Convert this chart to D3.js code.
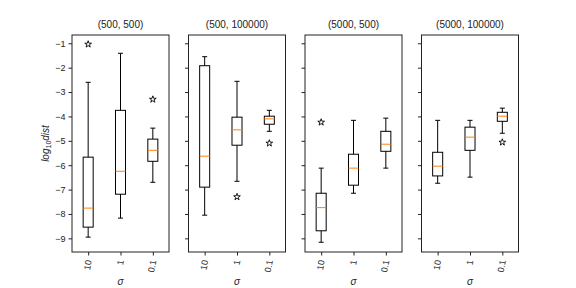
<!DOCTYPE html>
<html>
<head>
<meta charset="utf-8">
<script src="https://cdn.jsdelivr.net/npm/d3@7"></script>
<style>
  body { margin: 0; background: #fff; }
  text { font-family: "Liberation Sans", Arial, sans-serif; fill: #222; }
</style>
</head>
<body>
<svg id="chart" width="576" height="288"></svg>
<script>
// panel titles and sigma categories
const panels = ['(500, 500)', '(500, 100000)', '(5000, 500)', '(5000, 100000)']
const sigmas = ['10', '1', '0.1']
const yTicks = [-1, -2, -3, -4, -5, -6, -7, -8, -9]

// box stats per panel, in sigma order (log10 dist)
const whiskerHi = [[-2.6, -1.41, -4.48], [-1.55, -2.56, -3.75], [-6.12, -4.16, -4.07], [-4.16, -4.16, -3.66]]
const q3 = [[-5.67, -3.75, -4.93], [-1.92, -4.03, -3.99], [-7.15, -5.55, -4.61], [-5.47, -4.44, -3.83]]
const median = [[-7.76, -6.25, -5.39], [-5.63, -4.55, -4.10], [-7.74, -6.12, -5.14], [-6.04, -4.85, -3.99]]
const q1 = [[-8.54, -7.19, -5.84], [-6.90, -5.18, -4.32], [-8.69, -6.82, -5.43], [-6.44, -5.39, -4.20]]
const whiskerLo = [[-8.95, -8.17, -6.70], [-8.05, -6.66, -4.61], [-9.16, -7.15, -6.12], [-6.74, -6.49, -4.69]]
const fliers = [[[-1.04], [], [-3.3]], [[], [-7.30], [-5.10]], [[-4.24], [], []], [[], [], [-5.06]]]

const svg = d3.select('#chart')
const plotTop = 35
const plotBottom = 252
const panelWidth = 97
const panelLefts = [72, 188.5, 305, 421.5]
const boxWidth = 0.31

const y = d3.scaleLinear().domain([-9.56, -0.66]).range([plotBottom, plotTop])

panels.forEach((title, p) => {
  const left = panelLefts[p]
  const x = d3.scaleLinear().domain([0.5, 3.5]).range([left, left + panelWidth])
  const g = svg.append('g')

  // boxes
  sigmas.forEach((s, i) => {
    const c = x(i + 1)
    const hw = (x(1 + boxWidth / 2) - x(1))
    const cw = hw / 2
    const line = (x1, y1, x2, y2, color) => g.append('line')
      .attr('x1', x1).attr('y1', y1).attr('x2', x2).attr('y2', y2)
      .attr('stroke', color || '#000').attr('stroke-width', 1)

    line(c, y(whiskerHi[p][i]), c, y(q3[p][i]))
    line(c, y(q1[p][i]), c, y(whiskerLo[p][i]))
    line(c - cw, y(whiskerHi[p][i]), c + cw, y(whiskerHi[p][i]))
    line(c - cw, y(whiskerLo[p][i]), c + cw, y(whiskerLo[p][i]))
    g.append('rect')
      .attr('x', c - hw).attr('y', y(q3[p][i]))
      .attr('width', hw * 2).attr('height', y(q1[p][i]) - y(q3[p][i]))
      .attr('fill', 'none').attr('stroke', '#000').attr('stroke-width', 1)
    line(c - hw, y(median[p][i]), c + hw, y(median[p][i]), '#ff7f0e')

    fliers[p][i].forEach(v => {
      g.append('path')
        .attr('d', d3.symbol(d3.symbolStar, 14)())
        .attr('transform', `translate(${c},${y(v)})`)
        .attr('fill', '#fff').attr('stroke', '#000').attr('stroke-width', 0.9)
    })
  })

  // y axis
  const yAxis = g.append('g').attr('transform', `translate(${left},0)`)
    .call(d3.axisLeft(y).tickValues(yTicks).tickSize(3.5).tickPadding(3)
      .tickFormat(d => p === 0 ? d3.format('d')(d).replace('-', '\u2212') : ''))
  yAxis.select('.domain').remove()
  yAxis.selectAll('line').attr('stroke', '#222')
  yAxis.selectAll('text').attr('font-size', 9).attr('fill', '#222')
    .attr('font-family', '"Liberation Sans", Arial, sans-serif')

  // x axis
  const xAxis = g.append('g').attr('transform', `translate(0,${plotBottom})`)
    .call(d3.axisBottom(x).tickValues([1, 2, 3]).tickSize(3.5).tickFormat(d => sigmas[d - 1]))
  xAxis.select('.domain').remove()
  xAxis.selectAll('line').attr('stroke', '#222')
  xAxis.selectAll('text')
    .attr('font-size', 9).attr('fill', '#222')
    .attr('font-family', '"Liberation Sans", Arial, sans-serif')
    .attr('text-anchor', 'end').attr('dy', null).attr('y', 0)
    .attr('dominant-baseline', 'central')
    .attr('transform', 'translate(0,8) rotate(-80)')

  // frame
  g.append('rect').attr('x', left).attr('y', plotTop)
    .attr('width', panelWidth).attr('height', plotBottom - plotTop)
    .attr('fill', 'none').attr('stroke', '#222').attr('stroke-width', 1)

  g.append('text').attr('x', left + panelWidth / 2).attr('y', 28)
    .attr('text-anchor', 'middle').attr('font-size', 10).text(title)

  g.append('text').attr('x', left + panelWidth / 2).attr('y', 285)
    .attr('text-anchor', 'middle').attr('font-size', 10)
    .attr('font-style', 'italic').attr('font-family', '"DejaVu Sans", sans-serif').text('σ')
})

// y label
const yl = svg.append('text')
  .attr('transform', `translate(49,${(plotTop + plotBottom) / 2}) rotate(-90)`)
  .attr('text-anchor', 'middle').attr('font-size', 10)
  .attr('font-family', '"DejaVu Sans", sans-serif').attr('font-style', 'italic')
yl.append('tspan').text('log')
yl.append('tspan').attr('font-size', 7).attr('font-style', 'normal').attr('dy', 2).text('10')
yl.append('tspan').attr('dy', -2).text('dist')
</script>
</body>
</html>
